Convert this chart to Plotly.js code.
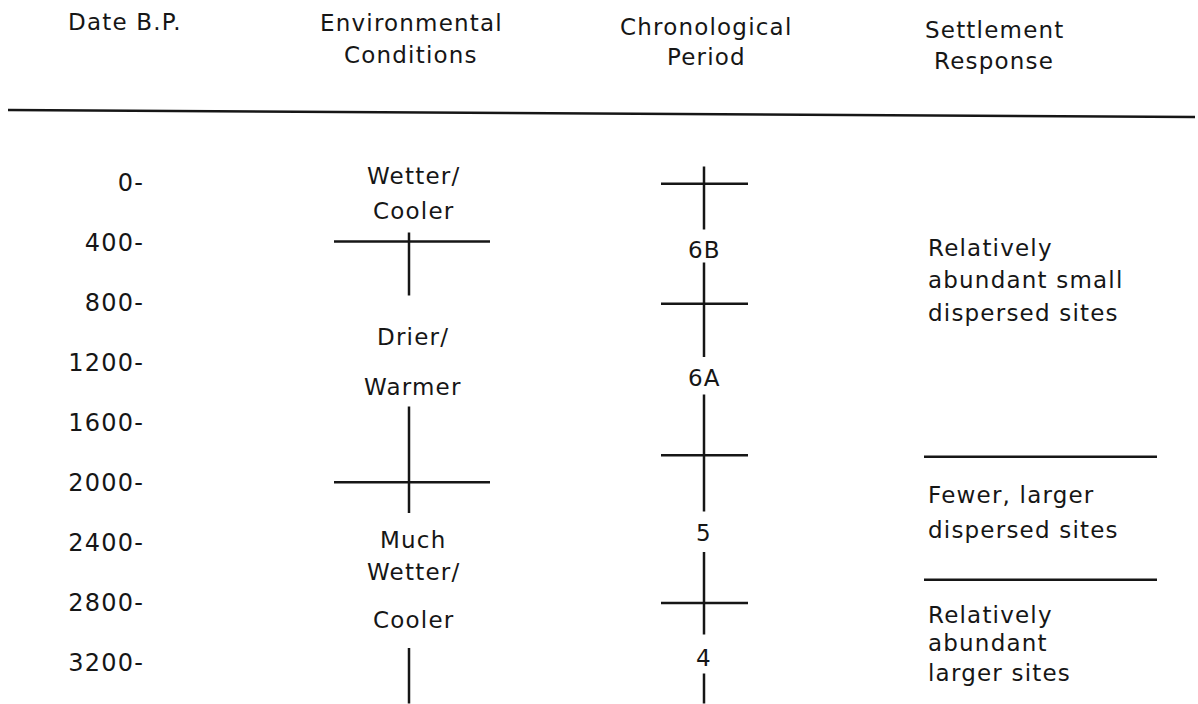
<!DOCTYPE html>
<html>
<head>
<meta charset="utf-8">
<script src="https://cdn.plot.ly/plotly-3.0.1.min.js"></script>
<style>
  html, body { margin: 0; padding: 0; background: #fff; }
  #chart { width: 1198px; height: 704px; }
  svg text { letter-spacing: 1.2px; }
</style>
</head>
<body>
<div id="chart"></div>
<script>
// ---------------- DATA (dates in years B.P.) ----------------
const dateTicks = [0, 400, 800, 1200, 1600, 2000, 2400, 2800, 3200];
const dateTickLabels = ['0-', '400-', '800-', '1200-', '1600-', '2000-', '2400-', '2800-', '3200-'];

const headerLines = ['Date B.P.', 'Environmental', 'Conditions', 'Chronological', 'Period', 'Settlement', 'Response'];

// Environmental conditions column
const envBoundaries = [390, 1995];
const envSegmentStarts = [330, 1490, 3100];
const envSegmentEnds = [750, 2200, 3470];
const envLabels = ['Wetter/', 'Cooler', 'Drier/', 'Warmer', 'Much', 'Wetter/', 'Cooler'];
const envLabelDates = [-47, 187, 1027, 1360, 2380, 2593, 2913];

// Chronological period column
const periodBoundaries = [5, 805, 1815, 2800];
const periodSegmentStarts = [-110, 530, 1410, 2460, 3270];
const periodSegmentEnds = [310, 1160, 2190, 3010, 3470];
const periodLabels = ['6B', '6A', '5', '4'];
const periodLabelDates = [447, 1300, 2333, 3167];

// Settlement response column
const settlementBoundaries = [1825, 2645];
const settlementLabels = ['Relatively', 'abundant small', 'dispersed sites',
                          'Fewer, larger', 'dispersed sites',
                          'Relatively', 'abundant', 'larger sites'];
const settlementLabelDates = [433, 647, 867, 2080, 2313, 2880, 3067, 3267];

// ---------------- LAYOUT GEOMETRY ----------------
const W = 1198, H = 704, ML = 150;
const FONT = 'DejaVu Sans, Liberation Sans, Arial, sans-serif';
const INK = '#161616';
const FS = 23;
const LW = 2.5;

const envCol = { center: 409, left: 334, right: 490, text: 413 };
const periodCol = { center: 704, left: 661, right: 748, text: 704 };
const settleCol = { left: 924, right: 1157, text: 926 };
const headerX = [125, 411, 411, 706, 706, 994, 994];
const headerY = [22, 23, 55, 27, 57, 30, 61];

const px2paperX = p => (p - ML) / (W - ML);
const px2paperY = p => 1 - p / H;

function hLines(dates, x0, x1) {
  const x = [], y = [];
  dates.forEach(d => { x.push(x0, x1, null); y.push(d, d, null); });
  return { x, y };
}
function vLines(starts, ends, xc) {
  const x = [], y = [];
  starts.forEach((s, i) => { x.push(xc, xc, null); y.push(s, ends[i], null); });
  return { x, y };
}
function lineTrace(xy) {
  return { type: 'scatter', mode: 'lines', x: xy.x, y: xy.y,
           line: { color: INK, width: LW }, hoverinfo: 'skip', showlegend: false };
}

const traces = [
  lineTrace(hLines(envBoundaries, envCol.left, envCol.right)),
  lineTrace(vLines(envSegmentStarts, envSegmentEnds, envCol.center)),
  lineTrace(hLines(periodBoundaries, periodCol.left, periodCol.right)),
  lineTrace(vLines(periodSegmentStarts, periodSegmentEnds, periodCol.center)),
  lineTrace(hLines(settlementBoundaries, settleCol.left, settleCol.right))
];

const font = { family: FONT, size: FS, color: INK };
const annotations = [];
headerLines.forEach((t, i) => annotations.push({
  text: t, xref: 'paper', yref: 'paper', x: px2paperX(headerX[i]), y: px2paperY(headerY[i]),
  xanchor: 'center', yanchor: 'middle', align: 'center', showarrow: false, font
}));
envLabels.forEach((t, i) => annotations.push({
  text: t, xref: 'x', yref: 'y', x: envCol.text, y: envLabelDates[i],
  xanchor: 'center', yanchor: 'middle', showarrow: false, font
}));
periodLabels.forEach((t, i) => annotations.push({
  text: t, xref: 'x', yref: 'y', x: periodCol.text, y: periodLabelDates[i],
  xanchor: 'center', yanchor: 'middle', showarrow: false, font
}));
settlementLabels.forEach((t, i) => annotations.push({
  text: t, xref: 'x', yref: 'y', x: settleCol.text, y: settlementLabelDates[i],
  xanchor: 'left', yanchor: 'middle', align: 'left', showarrow: false, font
}));

const layout = {
  width: W, height: H,
  margin: { l: ML, r: 0, t: 0, b: 0, pad: 0 },
  paper_bgcolor: '#fff', plot_bgcolor: '#fff',
  showlegend: false,
  xaxis: { range: [ML, W], visible: false, fixedrange: true },
  yaxis: {
    range: [(H - 183) / 0.15, -183 / 0.15],
    tickvals: dateTicks, ticktext: dateTickLabels,
    ticks: '', showgrid: false, zeroline: false, showline: false,
    tickfont: { family: FONT, size: 24, color: INK }, ticklabelstandoff: 5, fixedrange: true
  },
  shapes: [{
    type: 'line', xref: 'paper', yref: 'paper',
    x0: px2paperX(8), y0: px2paperY(110), x1: px2paperX(1195), y1: px2paperY(117),
    line: { color: INK, width: LW }
  }],
  annotations
};

Plotly.newPlot('chart', traces, layout, { displayModeBar: false, staticPlot: true });
</script>
</body>
</html>
